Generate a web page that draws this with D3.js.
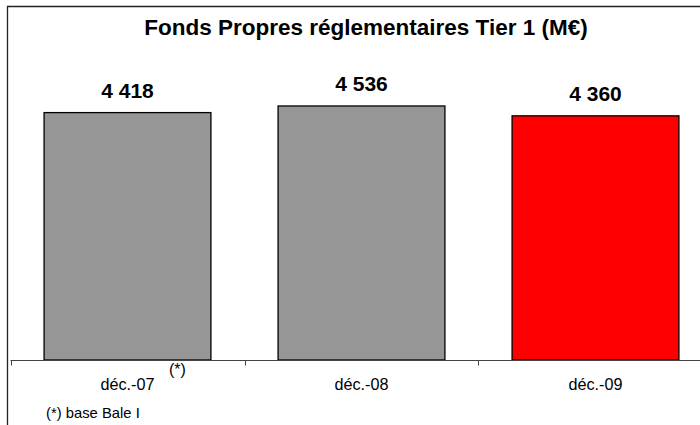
<!DOCTYPE html>
<html><head><meta charset="utf-8">
<script src="https://cdn.jsdelivr.net/npm/d3@7"></script>
<style>body{margin:0;background:#fff}svg{display:block}text{font-family:"Liberation Sans",Arial,sans-serif}</style>
</head><body>
<svg id="c" width="700" height="425"></svg>
<script>
const categories = ["déc.-07", "déc.-08", "déc.-09"];
const values = [4418, 4536, 4360];
const labels = ["4 418", "4 536", "4 360"];
const colors = ["#969696", "#969696", "#FF0000"];
const title = "Fonds Propres réglementaires Tier 1 (M€)";
const footnote = "(*) base Bale I";

const svg = d3.select("#c");
// frame
svg.append("path").attr("d", "M7.5,425V6.5H700").attr("fill","none").attr("stroke","#222").attr("stroke-width",1.3);

const left = 10.5, right = 712.5, base = 360;
const x = d3.scaleBand().domain(categories).range([left, right]).paddingInner(0.287).paddingOuter(0.1435);
const y = d3.scaleLinear().domain([0, 5000]).range([base, 80]);

svg.append("text").attr("x", 366).attr("y", 34.5).attr("text-anchor","middle")
  .attr("font-size", 22.5).attr("font-weight","bold").text(title);

svg.selectAll("rect.bar").data(values).join("rect").attr("class","bar")
  .attr("x", (d,i)=>x(categories[i])).attr("width", x.bandwidth())
  .attr("y", d=>y(d)).attr("height", d=>base - y(d))
  .attr("fill", (d,i)=>colors[i]).attr("stroke","#000").attr("stroke-width",1.3);

svg.selectAll("text.val").data(values).join("text").attr("class","val")
  .attr("x", (d,i)=>x(categories[i]) + x.bandwidth()/2).attr("y", d=>y(d)-14.5)
  .attr("text-anchor","middle").attr("font-size",21).attr("font-weight","bold").text((d,i)=>labels[i]);

// axis
const step = x.step();
svg.append("line").attr("x1", left).attr("x2", right).attr("y1", base+0.5).attr("y2", base+0.5).attr("stroke","#444");
const bounds = categories.map(c => x(c) - step*x.paddingInner()/2).concat([right]);
svg.selectAll("line.tick").data(bounds).join("line").attr("class","tick")
  .attr("x1", d=>Math.round(d)+0.5).attr("x2", d=>Math.round(d)+0.5).attr("y1", base).attr("y2", base+5.5).attr("stroke","#444");
svg.selectAll("text.cat").data(categories).join("text").attr("class","cat")
  .attr("x", d=>x(d)+x.bandwidth()/2).attr("y", 390).attr("text-anchor","middle").attr("font-size",16.2).text(d=>d);

svg.append("text").attr("x", 169).attr("y", 374.5).attr("font-size",16).text("(*)");
svg.append("text").attr("x", 46).attr("y", 418).attr("font-size",14.8).text(footnote);
</script>
</body></html>
